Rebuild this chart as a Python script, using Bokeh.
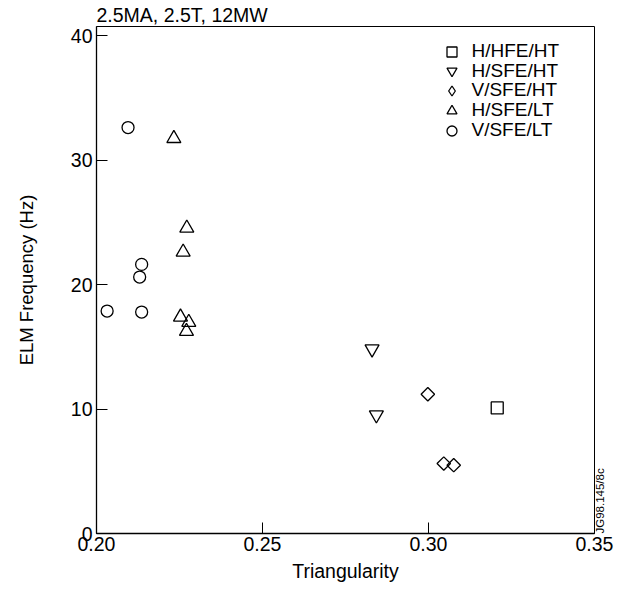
import math
from bokeh.plotting import figure
from bokeh.models import Range1d, FixedTicker, Legend, LegendItem, LinearAxis
from bokeh.embed import file_html
from bokeh.resources import INLINE

FONT = "Liberation Sans"

title_text = "2.5MA, 2.5T, 12MW"
x_label = "Triangularity"
y_label = "ELM Frequency (Hz)"
side_note = "JG98.145/8c"

x_ticks = [0.20, 0.25, 0.30, 0.35]
x_tick_labels = ["0.20", "0.25", "0.30", "0.35"]
y_ticks = [0, 10, 20, 30, 40]

series_names = ["H/HFE/HT", "H/SFE/HT", "V/SFE/HT", "H/SFE/LT", "V/SFE/LT"]

# H/HFE/HT (square)
hhfe_ht_x = [0.3207]
hhfe_ht_y = [10.09]
# H/SFE/HT (down triangle)
hsfe_ht_x = [0.2830, 0.2843]
hsfe_ht_y = [14.83, 9.53]
# V/SFE/HT (diamond)
vsfe_ht_x = [0.2998, 0.3046, 0.3076]
vsfe_ht_y = [11.19, 5.62, 5.49]
# H/SFE/LT (up triangle)
hsfe_lt_x = [0.2233, 0.2272, 0.2261, 0.2253, 0.2278, 0.2271]
hsfe_lt_y = [31.75, 24.55, 22.62, 17.40, 16.97, 16.25]
# V/SFE/LT (circle)
vsfe_lt_x = [0.2095, 0.2032, 0.2136, 0.2130, 0.2136]
vsfe_lt_y = [32.63, 17.88, 17.80, 20.61, 21.63]

p = figure(width=628, height=589, output_backend="svg", toolbar_location=None,
           x_range=Range1d(0.20, 0.35), y_range=Range1d(0, 40.75),
           min_border_left=96, min_border_right=34, min_border_top=26, min_border_bottom=56)

p.background_fill_color = "white"
p.border_fill_color = "white"
p.outline_line_color = "black"
p.outline_line_width = 1
p.xgrid.visible = False
p.ygrid.visible = False

p.title.text = title_text
p.title.align = "left"
p.title.text_font = FONT
p.title.text_font_size = "19.5px"
p.title.text_font_style = "normal"
p.title.text_color = "black"
p.title.standoff = 1
p.title.offset = 0

for ax in (p.xaxis[0], p.yaxis[0]):
    ax.major_label_text_font = FONT
    ax.major_label_text_font_size = "19.5px"
    ax.major_label_text_color = "black"
    ax.axis_label_text_font = FONT
    ax.axis_label_text_font_style = "normal"
    ax.axis_label_text_color = "black"
    ax.axis_line_color = "black"
    ax.axis_line_width = 1.3
    ax.major_tick_in = 11
    ax.major_tick_out = 0
    ax.minor_tick_in = 0
    ax.minor_tick_out = 0
    ax.major_tick_line_color = "black"
    ax.major_tick_line_width = 1

p.xaxis[0].ticker = FixedTicker(ticks=x_ticks)
p.xaxis[0].major_label_overrides = {t: l for t, l in zip(x_ticks, x_tick_labels)}
p.xaxis[0].axis_label = x_label
p.xaxis[0].axis_label_text_font_size = "19.5px"
p.xaxis[0].major_label_standoff = 3
p.xaxis[0].axis_label_standoff = 6

p.yaxis[0].ticker = FixedTicker(ticks=y_ticks)
p.yaxis[0].axis_label = y_label
p.yaxis[0].axis_label_text_font_size = "18.5px"
p.yaxis[0].major_label_standoff = 4
p.yaxis[0].axis_label_standoff = 31

# side note as the label of an empty right axis
side = LinearAxis(ticker=FixedTicker(ticks=[]), axis_label=side_note)
side.axis_line_color = None
side.major_tick_line_color = None
side.minor_tick_line_color = None
side.major_label_text_font_size = "0px"
side.axis_label_text_font = FONT
side.axis_label_text_font_size = "11.5px"
side.axis_label_text_font_style = "normal"
side.axis_label_text_color = "black"
side.axis_label_standoff = 5
side.axis_label_orientation = math.pi / 2
side.axis_label_align = "start"
p.add_layout(side, "right")

common = dict(fill_color=None, line_color="black", line_width=1.3)
r_sq = p.scatter(hhfe_ht_x, hhfe_ht_y, marker="square", size=12, **common)
r_dt = p.scatter(hsfe_ht_x, hsfe_ht_y, marker="inverted_triangle", size=14, **common)
r_di = p.scatter(vsfe_ht_x, vsfe_ht_y, marker="square", angle=math.pi / 4, size=9.5, **common)
r_ut = p.scatter(hsfe_lt_x, hsfe_lt_y, marker="triangle", size=14, **common)
r_ci = p.scatter(vsfe_lt_x, vsfe_lt_y, marker="circle", size=12, **common)
# hidden twin of the diamond series, used only for its legend symbol
r_di_leg = p.scatter(vsfe_ht_x, vsfe_ht_y, marker="diamond", size=10, visible=False, **common)

legend_renderers = [r_sq, r_dt, r_di_leg, r_ut, r_ci]
row_centers = [51, 70.5, 90, 110, 130]  # screen rows of legend entries
for name, rend, yc in zip(series_names, legend_renderers, row_centers):
    lg = Legend(items=[LegendItem(label=name, renderers=[rend])],
                location=(342.5, 533 - (yc + 12.5)))
    lg.border_line_color = None
    lg.background_fill_alpha = 0
    lg.inactive_fill_alpha = 0
    lg.padding = 0
    lg.margin = 0
    lg.spacing = 0
    lg.glyph_width = 25
    lg.glyph_height = 25
    lg.label_height = 25
    lg.label_standoff = 8
    lg.label_text_font = FONT
    lg.label_text_font_size = "19px"
    lg.label_text_color = "black"
    p.add_layout(lg, "center")

open("out.html", "w").write(file_html(p, INLINE))
